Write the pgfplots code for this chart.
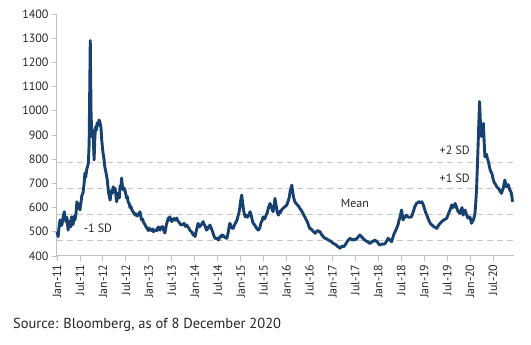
\documentclass[border=0pt]{standalone}
\usepackage{pgfplots}
\pgfplotsset{compat=1.18}
\usepackage{fontspec}
\setmainfont{PT Sans}
\definecolor{navy}{HTML}{17416E}
\definecolor{dgray}{HTML}{C6C6C6}
\definecolor{agray}{HTML}{BFBFBF}
\definecolor{txt}{HTML}{262626}
\begin{document}
\begin{tikzpicture}
\useasboundingbox (-57pt,-89pt) rectangle (474pt,256pt);
\begin{axis}[
  at={(0,0)}, anchor=south west,
  scale only axis, width=457pt, height=242pt,
  xmin=0, xmax=119.5, ymin=400, ymax=1400,
  axis x line*=bottom, axis y line*=left,
  axis line style={agray, line width=1pt, -},
  tick style={agray, line width=0.8pt},
  tick align=outside, major tick length=5pt,
  ytick={400,500,...,1400},
  xtick={0,6,...,114},
  xticklabels={Jan-11,Jul-11,Jan-12,Jul-12,Jan-13,Jul-13,Jan-14,Jul-14,Jan-15,Jul-15,Jan-16,Jul-16,Jan-17,Jul-17,Jan-18,Jul-18,Jan-19,Jul-19,Jan-20,Jul-20},
  x tick label style={rotate=90, anchor=east, font=\fontsize{12}{12}\selectfont, text=txt},
  y tick label style={font=\fontsize{12}{12}\selectfont, text=txt},
  /pgf/number format/assume math mode=true,
  /pgf/number format/1000 sep={},
  clip=false,
]
\addplot[dgray, line width=1.3pt, dash pattern=on 6pt off 4pt] coordinates {(0,787) (119.3,787)};
\addplot[dgray, line width=1.3pt, dash pattern=on 6pt off 4pt] coordinates {(0,679) (119.3,679)};
\addplot[dgray, line width=1.3pt, dash pattern=on 6pt off 4pt] coordinates {(0,571) (119.3,571)};
\addplot[dgray, line width=1.3pt, dash pattern=on 6pt off 4pt] coordinates {(0,463) (119.3,463)};
\addplot[navy, line width=2.9pt, line join=round] coordinates {
(0,500) (0.3,480) (0.5,515) (0.8,549) (1.0,525) (1.3,530) (1.6,560) (1.9,583) (2.1,560) (2.4,540) (2.6,560) (2.9,507) (3.1,530) (3.4,545) (3.6,520) (3.8,562) (4.0,545) (4.2,530) (4.5,565) (4.7,549) (5.0,580) (5.2,624) (5.5,600) (5.8,615) (6.0,590) (6.3,625) (6.5,650) (6.8,660) (7.1,700) (7.3,743) (7.5,725) (7.8,760) (8.0,770) (8.2,784) (8.4,860) (8.7,1290) (8.9,1000) (9.1,893) (9.4,920) (9.7,797) (9.9,890) (10.1,934) (10.3,920) (10.5,950) (10.8,940) (11.0,962) (11.2,955) (11.5,930) (11.7,879) (12.0,830) (12.3,800) (12.5,769) (12.8,745) (13.1,720) (13.3,690) (13.5,660) (13.9,631) (14.2,670) (14.5,660) (14.7,686) (15.0,670) (15.2,680) (15.4,650) (15.6,624) (15.8,645) (16.0,660) (16.3,640) (16.5,690) (16.7,680) (16.9,722) (17.1,690) (17.3,673) (17.6,680) (17.8,670) (18.0,655) (18.2,640) (18.4,645) (18.6,624) (18.9,615) (19.1,600) (19.3,605) (19.6,590) (20.0,580) (20.4,570) (20.6,575) (20.9,565) (21.3,570) (21.7,583) (21.9,565) (22.1,549) (22.4,552) (22.6,540) (23.0,530) (23.2,522) (23.5,516) (23.7,510) (23.9,505) (24.1,515) (24.3,510) (24.7,505) (25.0,512) (25.2,500) (25.6,508) (26.1,505) (26.3,515) (26.5,520) (26.7,510) (26.9,507) (27.1,518) (27.4,516) (27.6,522) (27.8,510) (28.0,503) (28.2,495) (28.4,510) (28.6,530) (28.9,545) (29.1,557) (29.3,550) (29.5,562) (29.8,548) (30.0,542) (30.3,550) (30.6,555) (30.9,548) (31.3,557) (31.6,545) (31.9,540) (32.2,532) (32.6,528) (32.9,530) (33.2,535) (33.6,522) (33.9,528) (34.2,520) (34.5,515) (34.8,505) (35.2,500) (35.4,495) (35.6,487) (35.9,490) (36.1,480) (36.3,495) (36.5,510) (36.7,522) (36.9,535) (37.2,520) (37.5,525) (37.8,530) (38.2,542) (38.5,530) (38.7,525) (38.9,515) (39.1,507) (39.4,512) (39.6,520) (39.8,522) (40.0,528) (40.4,512) (40.7,500) (41.0,485) (41.3,473) (41.6,475) (41.8,470) (42.0,472) (42.2,466) (42.4,472) (42.6,480) (42.9,478) (43.1,487) (43.4,485) (43.7,480) (44.0,476) (44.4,473) (44.6,485) (44.8,500) (45.0,520) (45.2,535) (45.4,528) (45.6,520) (45.8,515) (46.1,514) (46.4,528) (46.8,540) (47.1,550) (47.4,569) (47.6,580) (47.8,600) (48.0,625) (48.3,652) (48.5,625) (48.7,600) (48.9,580) (49.2,562) (49.5,568) (49.8,560) (50.2,572) (50.5,583) (50.7,572) (50.9,560) (51.1,545) (51.3,535) (51.7,528) (52.0,520) (52.3,512) (52.6,507) (52.9,512) (53.1,521) (53.3,535) (53.6,545) (53.9,562) (54.1,552) (54.4,556) (54.7,570) (55.0,580) (55.3,600) (55.7,617) (55.9,610) (56.1,600) (56.3,590) (56.5,583) (56.8,610) (57.0,638) (57.2,618) (57.4,600) (57.6,580) (57.9,569) (58.1,578) (58.3,585) (58.5,580) (58.7,590) (59.0,595) (59.3,600) (59.7,605) (60.1,611) (60.4,625) (60.7,640) (61.0,670) (61.2,680) (61.4,693) (61.5,680) (61.7,660) (61.9,640) (62.2,624) (62.5,618) (62.9,610) (63.2,605) (63.5,597) (63.8,590) (64.2,580) (64.5,570) (64.8,562) (65.1,552) (65.5,540) (65.8,525) (66.1,514) (66.4,512) (66.8,505) (67.1,500) (67.5,494) (67.8,500) (68.1,505) (68.4,503) (68.8,500) (69.1,490) (69.4,485) (69.7,478) (70.1,473) (70.4,472) (70.7,468) (71.0,466) (71.4,462) (71.7,460) (72.0,455) (72.3,452) (72.7,448) (73.0,446) (73.3,440) (73.6,438) (74.0,432) (74.3,438) (74.6,440) (74.9,438) (75.3,445) (75.6,452) (75.9,460) (76.2,466) (76.6,473) (76.9,470) (77.3,465) (77.6,470) (77.9,466) (78.2,470) (78.6,475) (78.9,482) (79.2,487) (79.5,482) (79.9,475) (80.2,470) (80.5,466) (80.8,462) (81.2,460) (81.5,455) (81.8,452) (82.1,455) (82.5,460) (82.8,462) (83.1,466) (83.4,462) (83.8,458) (84.1,450) (84.4,445) (84.7,448) (85.1,450) (85.4,448) (85.8,452) (86.2,462) (86.6,473) (86.8,470) (87.1,465) (87.3,462) (87.5,459) (87.8,475) (88.1,490) (88.4,500) (88.8,514) (89.0,522) (89.2,530) (89.4,545) (89.7,560) (89.9,575) (90.1,590) (90.3,570) (90.5,549) (90.7,555) (91.0,562) (91.2,566) (91.4,569) (91.7,562) (92.0,560) (92.3,560) (92.7,562) (93.0,575) (93.3,590) (93.6,605) (94.0,617) (94.3,620) (94.6,625) (95.0,620) (95.4,624) (95.6,618) (95.8,611) (96.0,600) (96.2,590) (96.4,580) (96.7,569) (97.0,556) (97.3,545) (97.6,535) (98.0,528) (98.3,525) (98.6,520) (99.0,518) (99.3,514) (99.6,522) (99.9,530) (100.2,535) (100.6,542) (100.9,545) (101.2,550) (101.5,552) (101.9,556) (102.2,568) (102.5,580) (102.9,595) (103.2,611) (103.5,600) (103.8,605) (104.1,617) (104.4,605) (104.7,590) (105.0,582) (105.4,576) (105.6,588) (105.9,600) (106.2,569) (106.4,580) (106.7,590) (106.9,580) (107.1,570) (107.3,562) (107.5,556) (107.7,562) (108.0,560) (108.2,548) (108.4,535) (108.6,542) (108.9,550) (109.1,562) (109.3,576) (109.5,620) (109.7,673) (109.9,760) (110.1,850) (110.3,950) (110.5,1038) (110.7,960) (111.0,893) (111.2,920) (111.5,948) (111.7,870) (111.9,810) (112.1,815) (112.3,820) (112.5,805) (112.8,790) (113.0,775) (113.2,760) (113.4,750) (113.7,742) (113.9,728) (114.1,714) (114.3,705) (114.5,700) (114.8,692) (115.0,686) (115.2,682) (115.4,680) (115.6,675) (115.8,670) (116.0,665) (116.2,659) (116.4,668) (116.7,680) (116.9,697) (117.1,714) (117.3,700) (117.5,686) (117.8,690) (118.0,695) (118.2,684) (118.4,673) (118.6,668) (118.8,660) (119.0,640) (119.1,624)
};
\node[font=\fontsize{12}{12}\selectfont, text=txt] at (axis cs:104,838) {+2 SD};
\node[font=\fontsize{12}{12}\selectfont, text=txt] at (axis cs:104,722) {+1 SD};
\node[font=\fontsize{12}{12}\selectfont, text=txt] at (axis cs:77.9,619) {Mean};
\node[font=\fontsize{12}{12}\selectfont, text=txt] at (axis cs:10.7,516) {-1 SD};
\end{axis}
\node[anchor=base west, font=\fontsize{14.5}{16}\selectfont, text=txt, inner sep=0pt] at (-44pt,-73pt) {Source: Bloomberg, as of 8 December 2020};
\end{tikzpicture}
\end{document}
